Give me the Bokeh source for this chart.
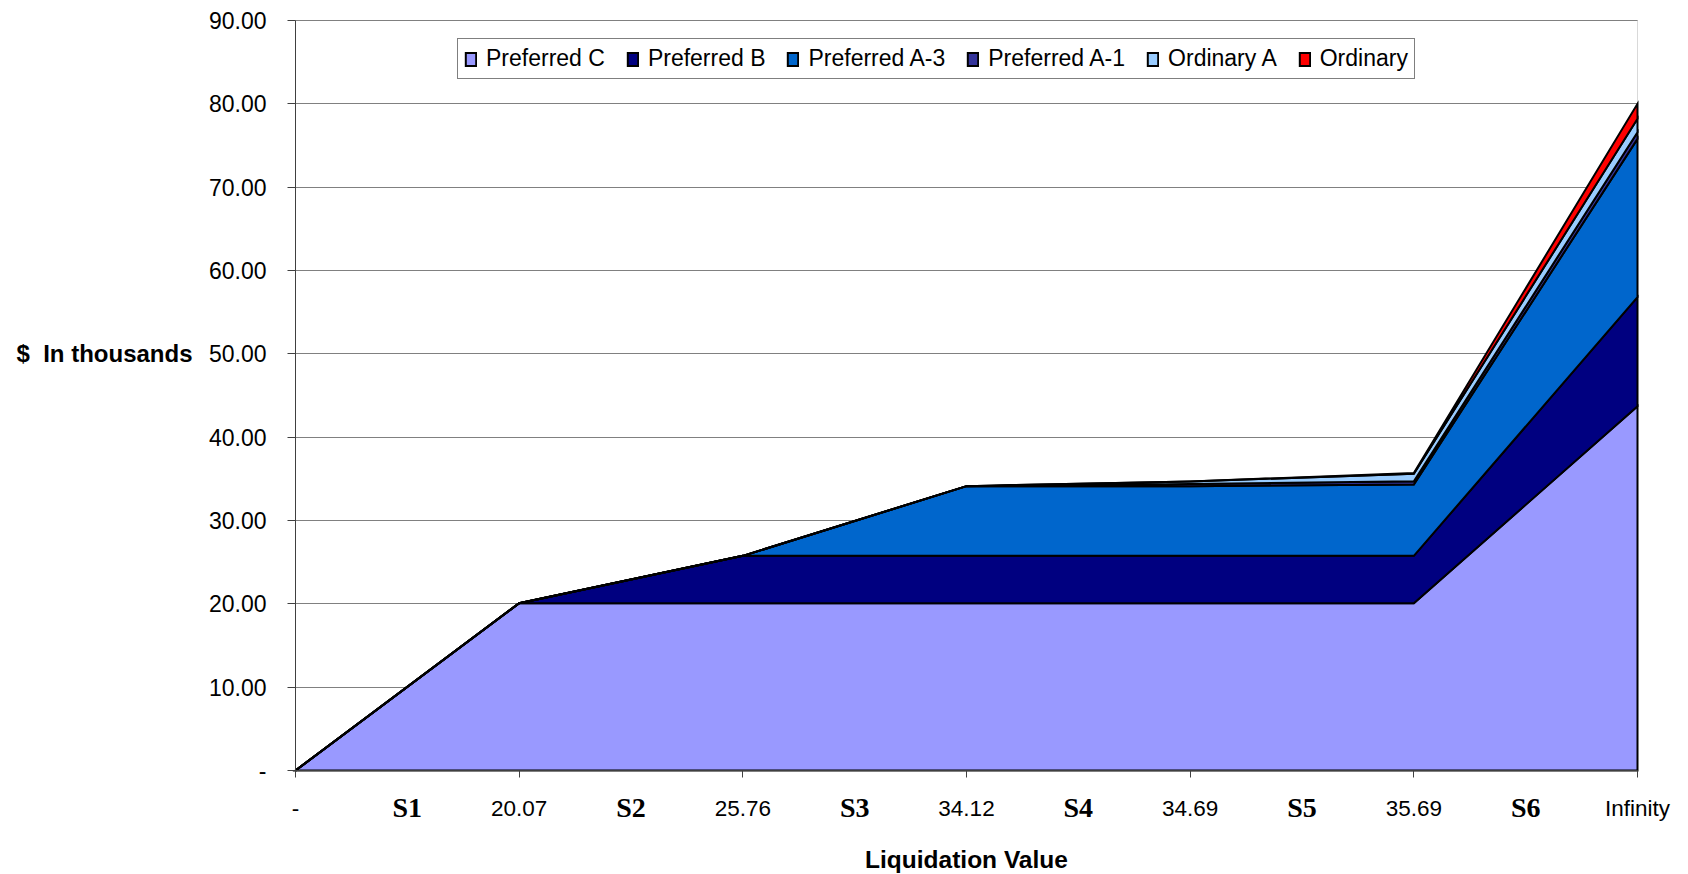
from bokeh.plotting import figure
from bokeh.models import (BoxAnnotation, FixedTicker, Grid, Legend,
                          LegendItem, LinearAxis, Range1d)
from bokeh.core.properties import value
from bokeh.embed import file_html
from bokeh.resources import INLINE

# Liquidation values (x categories) and scenario bands between them
x_tick_labels = ["-", "20.07", "25.76", "34.12", "34.69", "35.69", "Infinity"]
scenarios = ["S1", "S2", "S3", "S4", "S5", "S6"]

# Proceeds per share class at each liquidation value ($ thousands)
preferred_c = [0.0, 20.07, 20.07, 20.07, 20.07, 20.07, 43.70]
preferred_b = [0.0, 0.00, 5.69, 5.69, 5.69, 5.69, 13.10]
preferred_a3 = [0.0, 0.00, 0.00, 8.36, 8.36, 8.55, 19.00]
preferred_a1 = [0.0, 0.00, 0.00, 0.00, 0.25, 0.40, 0.80]
ordinary_a = [0.0, 0.00, 0.00, 0.00, 0.32, 0.90, 1.60]
ordinary = [0.0, 0.00, 0.00, 0.00, 0.00, 0.08, 1.80]

series_names = ["Preferred C", "Preferred B", "Preferred A-3",
                "Preferred A-1", "Ordinary A", "Ordinary"]
series_values = [preferred_c, preferred_b, preferred_a3,
                 preferred_a1, ordinary_a, ordinary]
series_colors = ["#9999FF", "#000080", "#0066CC", "#333399", "#99CCFF", "#FF0000"]

y_tick_values = [0, 10, 20, 30, 40, 50, 60, 70, 80, 90]
y_tick_labels = ["-", "10.00", "20.00", "30.00", "40.00", "50.00",
                 "60.00", "70.00", "80.00", "90.00"]

y_title = "$\u00a0 In thousands"
x_title = "Liquidation Value"

FONT = "Liberation Sans"
SERIF = "Liberation Serif"

# Page geometry (pixels): the plotting area sits inside a full-page frame
W, H = 1688, 874
AREA_L, AREA_R, AREA_T, AREA_B = 295, 1637, 20, 770

positions = list(range(len(x_tick_labels)))
x0, x1 = positions[0], positions[-1]
y0, y1 = y_tick_values[0], y_tick_values[-1]
px_per_x = (AREA_R - AREA_L) / (x1 - x0)
px_per_y = (AREA_B - AREA_T) / (y1 - y0)

x_range = Range1d(x0 - AREA_L / px_per_x, x1 + (W - AREA_R) / px_per_x)
y_range = Range1d(y0 - (H - AREA_B) / px_per_y, y1 + AREA_T / px_per_y)

p = figure(frame_width=W, frame_height=H, min_border=0,
           x_range=x_range, y_range=y_range,
           x_axis_type=None, y_axis_type=None,
           output_backend="svg", toolbar_location=None)
p.background_fill_color = "white"
p.border_fill_color = "white"
p.outline_line_color = None
p.xgrid.visible = False
p.ygrid.visible = False

# Horizontal gridlines across the plotting area
grid = Grid(dimension=1, ticker=FixedTicker(ticks=y_tick_values),
            cross_bounds=(x0, x1), grid_line_color="#808080",
            grid_line_width=1)
p.add_layout(grid)

# Plot-area border (right edge shows above the stacked areas' top)
p.add_layout(BoxAnnotation(left=x0, right=x1, bottom=y0, top=y1,
                           fill_alpha=0, line_color="#808080", line_width=1,
                           level="underlay"))

# Stacked areas, each drawn as a closed polygon between its lower and upper edge
legend_items = []
lower = [0.0] * len(positions)
for name, vals, color in zip(series_names, series_values, series_colors):
    upper = [a + b for a, b in zip(lower, vals)]
    xs = positions + positions[::-1]
    ys = upper + lower[::-1]
    r = p.patch(xs, ys, fill_color=color, line_color="black",
                line_width=2, line_join="miter")
    legend_items.append(LegendItem(label=name, renderers=[r]))
    lower = upper

# Y axis
yax = LinearAxis(fixed_location=x0, bounds=(y0, y1),
                 ticker=FixedTicker(ticks=y_tick_values),
                 major_label_overrides=dict(zip(y_tick_values, y_tick_labels)),
                 major_tick_out=8, major_tick_in=0,
                 minor_tick_line_color=None,
                 major_tick_line_color="#404040", axis_line_color="#404040",
                 major_label_standoff=21,
                 major_label_text_font=FONT, major_label_text_font_size="23px",
                 major_label_text_color="black")
p.add_layout(yax, "left")

# X axis
xax = LinearAxis(fixed_location=y0, bounds=(x0, x1),
                 ticker=FixedTicker(ticks=positions),
                 major_label_overrides=dict(zip(positions, x_tick_labels)),
                 major_tick_out=7, major_tick_in=0,
                 minor_tick_line_color=None,
                 major_tick_line_color="#404040", axis_line_color="#404040",
                 major_label_standoff=18,
                 major_label_text_font=FONT, major_label_text_font_size="22.5px",
                 major_label_text_color="black",
                 axis_label=x_title,
                 axis_label_text_font=FONT, axis_label_text_font_style="bold",
                 axis_label_text_font_size="24.5px", axis_label_text_color="black",
                 axis_label_standoff=22)
p.add_layout(xax, "below")

# Scenario labels centred between liquidation values, on the tick-label row
p.text(x=[i + 0.5 for i in range(len(scenarios))],
       y=[y0 - 37 / px_per_y] * len(scenarios), text=scenarios,
       text_align="center", text_baseline="middle",
       text_font=value(SERIF), text_font_style="bold",
       text_font_size="28px", text_color="black")

# Horizontal y-axis title beside the 50.00 tick
p.text(x=[x0 - (AREA_L - 16) / px_per_x], y=[50], text=[y_title],
       text_align="left", text_baseline="middle",
       text_font=value(FONT), text_font_style="bold",
       text_font_size="24px", text_color="black")

legend = Legend(items=legend_items, orientation="horizontal",
                location=(457, H - 79), margin=0, padding=6, spacing=21,
                glyph_width=13, glyph_height=16, label_standoff=9,
                label_text_font=FONT, label_text_font_size="23px",
                label_text_color="black",
                border_line_color="black", border_line_width=1,
                background_fill_color="white", background_fill_alpha=1)
p.add_layout(legend)

open("out.html", "w").write(file_html(p, INLINE))
